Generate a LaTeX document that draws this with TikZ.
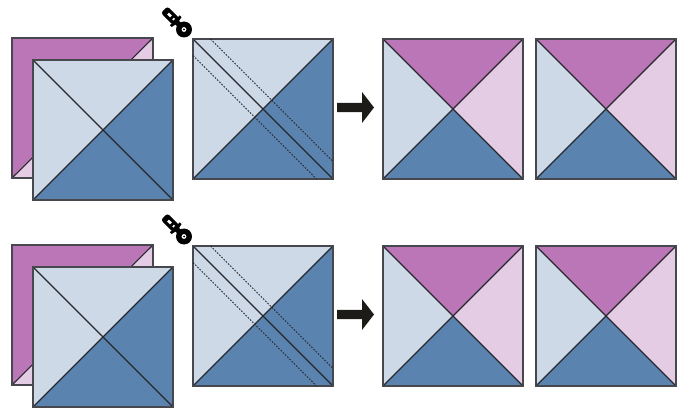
\documentclass[tikz,border=0pt]{standalone}
\definecolor{pLight}{HTML}{E4CDE4}
\definecolor{pDark}{HTML}{BA76B7}
\definecolor{bLight}{HTML}{CDD9E7}
\definecolor{bDark}{HTML}{5A84AF}
\definecolor{edge}{HTML}{47484D}
\definecolor{seamc}{HTML}{27282D}
\definecolor{arrowc}{HTML}{1C1B17}
\tikzset{
  x=1pt,y=-1pt,
  frame/.style={draw=edge,line width=1.4pt,line join=miter},
  seam/.style={draw=seamc,line width=1.1pt},
  cutline/.style={draw=seamc,line width=1.05pt,dash pattern=on 1.6pt off 1.5pt},
  pics/qst/.style n args={4}{code={
    \fill[#1] (0,0) -- (140,0) -- (70,70) -- cycle;
    \fill[#2] (140,0) -- (140,140) -- (70,70) -- cycle;
    \fill[#3] (0,140) -- (140,140) -- (70,70) -- cycle;
    \fill[#4] (0,0) -- (0,140) -- (70,70) -- cycle;
    \draw[seam] (0,0) -- (140,140) (140,0) -- (0,140);
    \draw[frame] (0,0) rectangle (140,140);
  }},
  pics/hst/.style={code={
    \fill[pDark] (0,0) -- (141,0) -- (0,140) -- cycle;
    \fill[pLight] (141,0) -- (141,140) -- (0,140) -- cycle;
    \draw[seam] (141,0) -- (0,140);
    \draw[frame] (0,0) rectangle (141,140);
  }},
  pics/cutter/.style={code={
    % origin at the wheel centre
    \begin{scope}[rotate=-45]
      \fill[black,rounded corners=2.5pt] (-28,-4.6) rectangle (-11,4.6);
      \fill[black] (-13,-7) -- (-10.5,-7) -- (-9,0) -- (-10.5,7) -- (-13,7) -- cycle;
      \fill[black] (-12,-2.5) rectangle (-5,2.5);
      \fill[white] (-22.5,-1.4) rectangle (-18.5,1.4);
      \fill[white] (-15.5,-1.2) rectangle (-13.8,1.2);
    \end{scope}
    \fill[black] (0,0) circle (8);
    \fill[white] (0,0) circle (2.4);
    \fill[black] (0,0) circle (1);
  }},
  pics/bigarrow/.style={code={
    \fill[arrowc] (0,-4.7) -- (25,-4.7) -- (25,-15.5) -- (37,0) -- (25,15.5) -- (25,4.7) -- (0,4.7) -- cycle;
  }},
}
\begin{document}
\begin{tikzpicture}
\useasboundingbox (0,0) rectangle (686,409);
\fill[white] (0,0) rectangle (686,409);
\foreach \dy in {0,207}{
  \pic at (12,38+\dy) {hst};
  \pic at (33,60+\dy) {qst={bLight}{bDark}{bDark}{bLight}};
  \pic at (193,39+\dy) {qst={bLight}{bDark}{bDark}{bLight}};
  \draw[cutline] (210.5,39+\dy) -- (333,161.5+\dy);
  \draw[cutline] (193,55.5+\dy) -- (316.5,179+\dy);
  \pic at (383,39+\dy) {qst={pDark}{pLight}{bDark}{bLight}};
  \pic at (536,39+\dy) {qst={pDark}{pLight}{bDark}{bLight}};
  \pic at (337,107.5+\dy) {bigarrow};
  \pic at (184,29.5+\dy) {cutter};
}
\end{tikzpicture}
\end{document}
